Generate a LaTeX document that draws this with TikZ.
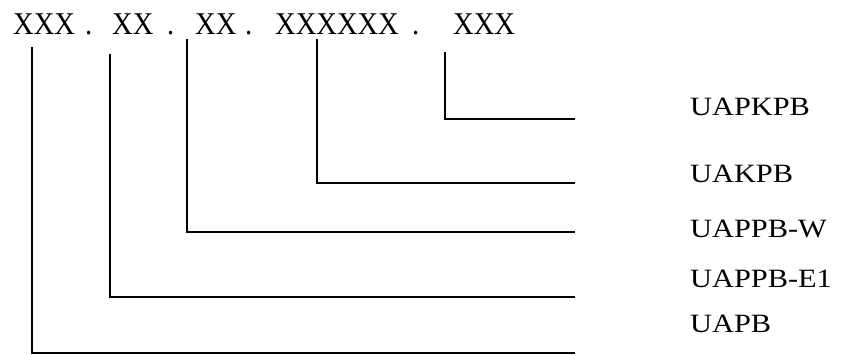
\documentclass[tikz,border=0pt]{standalone}
\usepackage{fontspec}
\setmainfont{Liberation Serif}
\newfontfamily\codefont[FakeStretch=0.9]{Liberation Serif}
\newfontfamily\partfont[FakeStretch=1.15]{Liberation Serif}
\usepackage{tikz}
\usetikzlibrary{positioning}

\begin{document}
\begin{tikzpicture}[
  x=1pt, y=-1pt,
  seg/.style={inner sep=0pt, anchor=base west, font=\codefont\fontsize{31.7}{36}\selectfont},
  part/.style={inner sep=0pt, anchor=base west, font=\partfont\fontsize{26.4}{30}\selectfont},
  link/.style={line width=1.4pt, line cap=rect}
]
  \useasboundingbox (0,0) rectangle (842,355);

  % code groups
  \node[seg] (g1) at (13,35)  {XXX};
  \node[seg] (d1) at (85,35)  {.};
  \node[seg] (g2) at (112,35) {XX};
  \node[seg] (d2) at (167,35) {.};
  \node[seg] (g3) at (195,35) {XX};
  \node[seg] (d3) at (245,35) {.};
  \node[seg] (g4) at (275,35) {XXXXXX};
  \node[seg] (d4) at (412,35) {.};
  \node[seg] (g5) at (453,35) {XXX};

  % part names
  \node[part] (uapkpb) at (690,116) {UAPKPB};
  \node[part] (uakpb)  at (690,183) {UAKPB};
  \node[part] (uappbw) at (690,237) {UAPPB-W};
  \node[part] (uappbe) at (690,287) {UAPPB-E1};
  \node[part] (uapb)   at (690,332) {UAPB};

  % line ends
  \coordinate (t1) at (32,48);   \coordinate (e1) at (574,353);
  \coordinate (t2) at (110,55);  \coordinate (e2) at (574,297);
  \coordinate (t3) at (187,40);  \coordinate (e3) at (574,232);
  \coordinate (t4) at (317,40);  \coordinate (e4) at (574,183);
  \coordinate (t5) at (445,53);  \coordinate (e5) at (574,119);

  \draw[link] (t1) |- (e1);
  \draw[link] (t2) |- (e2);
  \draw[link] (t3) |- (e3);
  \draw[link] (t4) |- (e4);
  \draw[link] (t5) |- (e5);
\end{tikzpicture}
\end{document}
